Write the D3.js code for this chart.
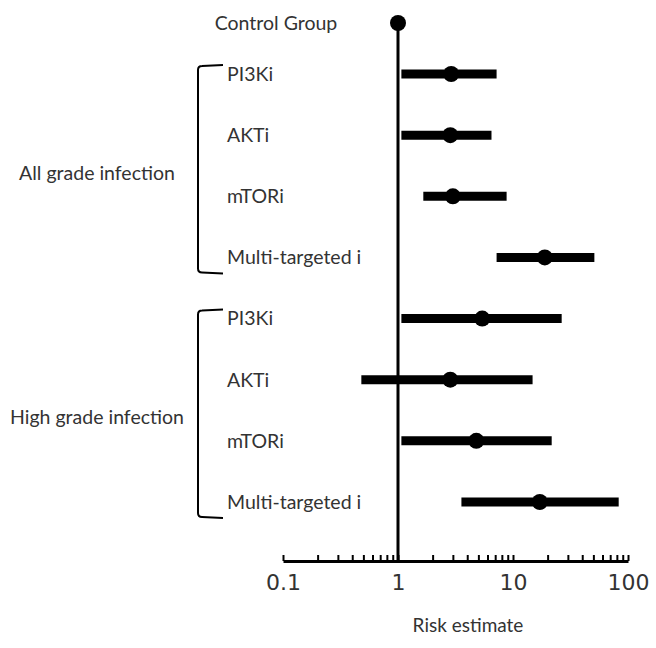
<!DOCTYPE html>
<html>
<head>
<meta charset="utf-8">
<script src="https://cdn.jsdelivr.net/npm/d3@7"></script>
<style>
  body { margin: 0; background: #fff; }
  text { fill: #333; }
</style>
</head>
<body>
<svg id="graph" width="656" height="648"></svg>
<script>
// Forest plot of risk estimates (log scale)

var svg = d3.select("#graph");

// Data
var rows = ["a1", "a2", "a3", "a4", "h1", "h2", "h3", "h4"];
var labels = ["PI3Ki", "AKTi", "mTORi", "Multi-targeted i",
              "PI3Ki", "AKTi", "mTORi", "Multi-targeted i"];
var estimate = [2.9, 2.85, 3.0, 18.9, 5.4, 2.85, 4.8, 17.1];
var lower = [1.07, 1.07, 1.66, 7.2, 1.07, 0.48, 1.07, 3.56];
var upper = [7.2, 6.5, 8.8, 51, 26.5, 14.8, 21.7, 83];
var controlValue = 1;
var groups = ["All grade infection", "High grade infection"];
var groupRows = [["a1", "a4"], ["h1", "h4"]];
var tickLabels = [0.1, 1, 10, 100];

var labelFont = "Lato, 'Open Sans', sans-serif";

// Scales
var xScale = d3.scaleLog().domain([0.1, 100]).range([283, 628]);
var yScale = d3.scalePoint().domain(rows).range([74, 502]);
var controlY = 23, axisY = 561;

// Reference line at 1
svg.append("line")
    .attr("x1", xScale(controlValue)).attr("x2", xScale(controlValue))
    .attr("y1", controlY).attr("y2", axisY)
    .attr("stroke", "#000").attr("stroke-width", 3);

// Control point
svg.append("circle")
    .attr("cx", xScale(controlValue)).attr("cy", controlY).attr("r", 8)
    .attr("fill", "#000");
svg.append("text")
    .attr("x", 276).attr("y", controlY).attr("dy", "0.35em")
    .attr("text-anchor", "middle")
    .style("font-family", labelFont).style("font-size", "19.5px")
    .text("Control Group");

// Confidence bars and point estimates
for (var i = 0; i < rows.length; ++i) {
    var y = yScale(rows[i]);
    svg.append("line")
        .attr("x1", xScale(lower[i])).attr("x2", xScale(upper[i]))
        .attr("y1", y).attr("y2", y)
        .attr("stroke", "#000").attr("stroke-width", 9);
    svg.append("circle")
        .attr("cx", xScale(estimate[i])).attr("cy", y).attr("r", 8)
        .attr("fill", "#000");
    svg.append("text")
        .attr("x", 227).attr("y", y).attr("dy", "0.35em")
        .style("font-family", labelFont).style("font-size", "19.5px")
        .text(labels[i]);
}

// Group brackets
for (var g = 0; g < groups.length; ++g) {
    var y0 = yScale(groupRows[g][0]) - 9, y1 = yScale(groupRows[g][1]) + 15;
    var bx = 198, ex = 223;
    svg.append("path")
        .attr("d", "M" + ex + "," + y0 + " L" + (bx + 4) + "," + (y0 + 1) +
                   " Q" + bx + "," + (y0 + 1) + " " + bx + "," + (y0 + 5) +
                   " L" + bx + "," + (y1 - 4) +
                   " Q" + bx + "," + y1 + " " + (bx + 4) + "," + y1 +
                   " L" + ex + "," + (y1 + 1))
        .attr("fill", "none").attr("stroke", "#000").attr("stroke-width", 2);
    svg.append("text")
        .attr("x", 97).attr("y", (y0 + y1) / 2 + 4).attr("dy", "0.35em")
        .attr("text-anchor", "middle")
        .style("font-family", labelFont).style("font-size", "19.5px")
        .text(groups[g]);
}

// X axis with log ticks pointing up
var xAxis = d3.axisBottom(xScale)
    .tickSizeInner(-6).tickSizeOuter(0).tickPadding(13)
    .tickFormat(function(d) {
        var isMajor = Math.abs(Math.log10(d) - Math.round(Math.log10(d))) < 1e-6;
        return isMajor && tickLabels.indexOf(+d.toPrecision(1)) >= 0 ? d3.format("~g")(d) : "";
    });
var ax = svg.append("g").attr("transform", "translate(0," + axisY + ")").call(xAxis);
ax.select(".domain").attr("stroke", "#000").attr("stroke-width", 3);
ax.selectAll(".tick line").attr("stroke", "#000").attr("stroke-width", 2);
ax.selectAll(".tick text")
    .style("font-family", "'DejaVu Sans', sans-serif").style("font-size", "22px")
    .attr("fill", "#333");

svg.append("text")
    .attr("x", 468).attr("y", 625).attr("dy", "0.35em")
    .attr("text-anchor", "middle")
    .style("font-family", labelFont).style("font-size", "19px")
    .text("Risk estimate");
</script>
</body>
</html>
